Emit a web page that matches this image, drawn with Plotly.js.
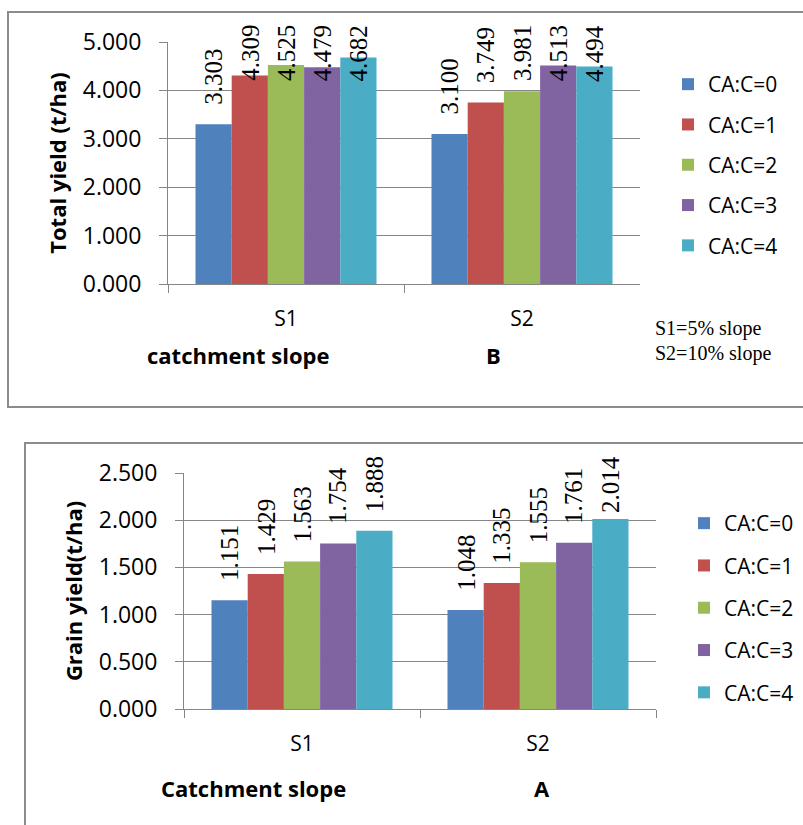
<!DOCTYPE html>
<html>
<head>
<meta charset="utf-8">
<script src="https://cdn.plot.ly/plotly-3.0.1.min.js"></script>
<style>html,body{margin:0;padding:0;background:#fff;}#chart{width:803px;height:825px;}</style>
</head>
<body>
<div id="chart"></div>
<script>
// ---- data ----
var categories = ["S1", "S2"];
var seriesNames = ["CA:C=0", "CA:C=1", "CA:C=2", "CA:C=3", "CA:C=4"];
var totalYield0 = [3.303, 3.100];
var totalYield1 = [4.309, 3.749];
var totalYield2 = [4.525, 3.981];
var totalYield3 = [4.479, 4.513];
var totalYield4 = [4.682, 4.494];
var grainYield0 = [1.151, 1.048];
var grainYield1 = [1.429, 1.335];
var grainYield2 = [1.563, 1.555];
var grainYield3 = [1.754, 1.761];
var grainYield4 = [1.888, 2.014];
var totalTicks = [0, 1, 2, 3, 4, 5];
var grainTicks = [0, 0.5, 1, 1.5, 2, 2.5];

var totalSeries = [totalYield0, totalYield1, totalYield2, totalYield3, totalYield4];
var grainSeries = [grainYield0, grainYield1, grainYield2, grainYield3, grainYield4];
var colors = ["#4F81BD", "#C0504D", "#9BBB59", "#8064A2", "#4BACC6"];

var W = 803, H = 825;
var SANS = "'Open Sans', sans-serif";
var SERIF = "'Liberation Serif', 'Times New Roman', serif";
var gridCol = "#868686";
var bargap = 0.233;

// plot-area geometry (pixels)
var geoTop = {x0: 168, x1: 640, y0: 42, y1: 284, max: 5};
var geoBot = {x0: 184, x1: 656, y0: 473, y1: 709, max: 2.5};

function px(v) { return v / W; }
function py(v) { return 1 - v / H; }

var traces = [];
for (var i = 0; i < 5; i++) {
  traces.push({
    type: "bar", x: categories, y: totalSeries[i], name: seriesNames[i],
    marker: {color: colors[i], line: {width: 0}}, xaxis: "x", yaxis: "y",
    legend: "legend", legendgroup: "t" + i, hoverinfo: "skip"
  });
}
for (var i = 0; i < 5; i++) {
  traces.push({
    type: "bar", x: categories, y: grainSeries[i], name: seriesNames[i],
    marker: {color: colors[i], line: {width: 0}}, xaxis: "x2", yaxis: "y2",
    legend: "legend2", legendgroup: "g" + i, hoverinfo: "skip"
  });
}

// data labels (rotated, above bars, kept inside the chart frame)
var annotations = [];
var gapPx = 17, lenPx = 57, overPx = 19;
var bw = (1 - bargap) / 5;
function addLabels(series, geom, xr, yr) {
  var plotH = geom.y1 - geom.y0;
  var ppu = plotH / geom.max;
  for (var i = 0; i < series.length; i++) {
    for (var j = 0; j < categories.length; j++) {
      var v = series[i][j];
      var clamped = v * ppu + gapPx + lenPx > plotH + overPx;
      annotations.push({
        xref: xr, yref: yr, x: j + (i - 2) * bw,
        y: clamped ? geom.max : v,
        yshift: clamped ? overPx : gapPx,
        yanchor: clamped ? "top" : "bottom", xanchor: "center",
        text: v.toFixed(3), textangle: -90, showarrow: false,
        font: {family: SERIF, size: 25, color: "#000"}
      });
    }
  }
}
addLabels(totalSeries, geoTop, "x", "y");
addLabels(grainSeries, geoBot, "x2", "y2");

function txt(x, y, t, font, anchor) {
  annotations.push({xref: "paper", yref: "paper", x: px(x), y: py(y), text: t,
    showarrow: false, xanchor: anchor || "center", yanchor: "middle", font: font});
}
var boldF = {family: SANS, size: 22, color: "#000"};
var serifF = {family: SERIF, size: 20, color: "#000"};
txt(238, 355, "<b>catchment slope</b>", boldF);
txt(493, 355, "<b>B</b>", boldF);
txt(253, 788, "<b>Catchment slope</b>", boldF);
txt(542, 788, "<b>A</b>", boldF);
txt(653, 328, "S1=5% slope", serifF, "left");
txt(653, 353, "S2=10% slope", serifF, "left");

function xax(geom, yname) {
  return {
    domain: [px(geom.x0), px(geom.x1)], anchor: yname, type: "category",
    tickson: "boundaries", ticks: "outside", ticklen: 8, tickcolor: gridCol,
    showline: true, linecolor: gridCol, linewidth: 1, showgrid: false,
    tickfont: {family: SANS, size: 21, color: "#000"}, ticklabelstandoff: 16,
    range: [-0.5, 1.5], fixedrange: true
  };
}
function yax(geom, xname, ticks, title) {
  return {
    domain: [py(geom.y1), py(geom.y0)], anchor: xname, range: [0, geom.max],
    tickvals: ticks, tickformat: ".3f", ticks: "outside", ticklen: 8, tickcolor: gridCol,
    showline: true, linecolor: gridCol, linewidth: 1, showgrid: true, gridcolor: gridCol,
    gridwidth: 1, zeroline: false, ticklabelstandoff: 13,
    tickfont: {family: SANS, size: 23, color: "#000"},
    title: {text: "<b>" + title + "</b>", font: {family: SANS, size: 22, color: "#000"}, standoff: 10},
    fixedrange: true
  };
}

var layout = {
  width: W, height: H, margin: {l: 0, r: 0, t: 0, b: 0},
  paper_bgcolor: "#fff", plot_bgcolor: "#fff",
  barmode: "group", bargap: bargap, bargroupgap: 0,
  xaxis: xax(geoTop, "y"), yaxis: yax(geoTop, "x", totalTicks, "Total yield (t/ha)"),
  xaxis2: xax(geoBot, "y2"), yaxis2: yax(geoBot, "x2", grainTicks, "Grain yield(t/ha)"),
  legend: {x: px(668), y: py(64), xanchor: "left", yanchor: "top", tracegroupgap: 10,
    font: {family: SANS, size: 21, color: "#000"}, bgcolor: "rgba(0,0,0,0)", traceorder: "grouped"},
  legend2: {x: px(684), y: py(503), xanchor: "left", yanchor: "top", tracegroupgap: 12,
    font: {family: SANS, size: 21, color: "#000"}, bgcolor: "rgba(0,0,0,0)", traceorder: "grouped"},
  annotations: annotations,
  shapes: [
    {type: "rect", xref: "paper", yref: "paper", x0: px(8), x1: px(830), y0: py(407), y1: py(12),
      line: {color: "#8c8c8c", width: 2}, fillcolor: "rgba(0,0,0,0)", layer: "below"},
    {type: "rect", xref: "paper", yref: "paper", x0: px(25), x1: px(830), y0: py(860), y1: py(443),
      line: {color: "#8c8c8c", width: 2}, fillcolor: "rgba(0,0,0,0)", layer: "below"}
  ],
  showlegend: true
};

Plotly.newPlot("chart", traces, layout, {displayModeBar: false, staticPlot: true});
</script>
</body>
</html>
